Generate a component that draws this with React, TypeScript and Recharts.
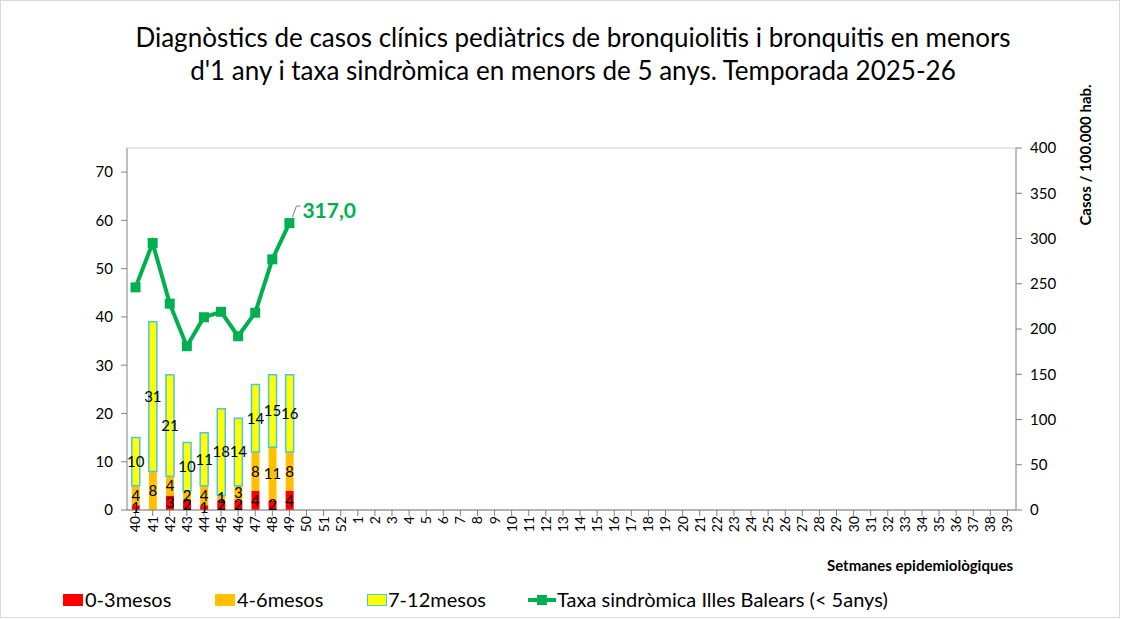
import React from 'react'
import {
  ComposedChart,
  Bar,
  Line,
  XAxis,
  YAxis,
  CartesianGrid,
  LabelList,
} from 'recharts'

// weeks of the 2025-26 season
const weeks = [
  '40', '41', '42', '43', '44', '45', '46', '47', '48', '49', '50', '51', '52',
  '1', '2', '3', '4', '5', '6', '7', '8', '9', '10', '11', '12', '13', '14', '15',
  '16', '17', '18', '19', '20', '21', '22', '23', '24', '25', '26', '27', '28',
  '29', '30', '31', '32', '33', '34', '35', '36', '37', '38', '39',
]

const cases0to3 = [1, 0, 3, 2, 1, 2, 2, 4, 2, 4]
const cases4to6 = [4, 8, 4, 2, 4, 1, 3, 8, 11, 8]
const cases7to12 = [10, 31, 21, 10, 11, 18, 14, 14, 15, 16]
const rateUnder5 = [246, 295, 228, 181, 213, 219, 192, 218, 277, 317]

const leftTicks = [0, 10, 20, 30, 40, 50, 60, 70]
const rightTicks = [0, 50, 100, 150, 200, 250, 300, 350, 400]

const FONT = 'Lato, "Open Sans", sans-serif'

const data = weeks.map((w, i) => ({
  week: w,
  m03: cases0to3[i] ?? null,
  m46: cases4to6[i] ?? null,
  m712: cases7to12[i] ?? null,
  rate: rateUnder5[i] ?? null,
}))

const hideZero = (v: any) => (v ? v : '')

const SquareDot = (props: any) => {
  const { cx, cy, value } = props
  if (value == null || cx == null) return null
  return <rect x={cx - 5} y={cy - 5} width={10} height={10} fill="#00b050" />
}

const LastLabel = (props: any) => {
  const { x, y, index, value } = props
  if (index !== rateUnder5.length - 1) return null
  return (
    <g>
      <polyline
        points={`${x + 3},${y - 6} ${x + 7},${y - 17} ${x + 11},${y - 17}`}
        fill="none"
        stroke="#808080"
        strokeWidth={1}
      />
      <text x={x + 13} y={y - 5} fill="#00b050" fontSize={21} fontWeight="bold" fontFamily={FONT}>
        {value.toFixed(1).replace('.', ',')}
      </text>
    </g>
  )
}

export default function App() {
  return (
    <div style={{ position: 'fixed', left: 0, top: 0, width: 1126, height: 619, background: '#fff', fontFamily: FONT }}>
      <div style={{ position: 'absolute', left: 0, top: 0, width: 1118, height: 616, border: '1px solid #d9d9d9' }} />
      <div
        style={{
          position: 'absolute',
          left: 0,
          top: 21,
          width: 1146,
          textAlign: 'center',
          fontSize: 26,
          lineHeight: '33px',
          color: '#000',
        }}
      >
        Diagnòstics de casos clínics pediàtrics de bronquiolitis i bronquitis en menors
        <br />
        d'1 any i taxa sindròmica en menors de 5 anys. Temporada 2025-26
      </div>
      <ComposedChart
        width={1126}
        height={619}
        data={data}
        margin={{ top: 148, right: 62, left: 77, bottom: 65 }}
        barCategoryGap="28%"
        style={{ position: 'absolute', left: 0, top: 0 }}
      >
        <CartesianGrid vertical={false} stroke="#d0d0d0" />
        <XAxis
          dataKey="week"
          interval={0}
          height={44}
          angle={-90}
          textAnchor="end"
          dx={-5}
          dy={-2}
          tick={{ fontSize: 14, fill: '#000', fontFamily: FONT }}
          stroke="#808080"
          tickLine={{ stroke: '#808080' }}
        />
        <YAxis
          yAxisId="left"
          domain={[0, 75]}
          ticks={leftTicks}
          width={50}
          tick={{ fontSize: 15, fill: '#000', fontFamily: FONT }}
          stroke="#808080"
          tickLine={{ stroke: '#808080' }}
          tickMargin={8}
        />
        <YAxis
          yAxisId="right"
          orientation="right"
          domain={[0, 400]}
          ticks={rightTicks}
          width={48}
          tick={{ fontSize: 15, fill: '#000', fontFamily: FONT, textAnchor: 'start' }}
          stroke="#808080"
          tickLine={{ stroke: '#808080' }}
          tickMargin={8}
        />
        <Bar yAxisId="left" dataKey="m03" stackId="a" fill="#ff0000" isAnimationActive={false}>
          <LabelList dataKey="m03" position="center" formatter={hideZero} fill="#000" fontSize={15} fontFamily={FONT} />
        </Bar>
        <Bar yAxisId="left" dataKey="m46" stackId="a" fill="#ffc000" isAnimationActive={false}>
          <LabelList dataKey="m46" position="center" formatter={hideZero} fill="#000" fontSize={15} fontFamily={FONT} />
        </Bar>
        <Bar yAxisId="left" dataKey="m712" stackId="a" fill="#ffff00" stroke="#4bc6e6" strokeWidth={1.5} isAnimationActive={false}>
          <LabelList dataKey="m712" position="center" formatter={hideZero} fill="#000" fontSize={15} fontFamily={FONT} />
        </Bar>
        <Line
          yAxisId="right"
          dataKey="rate"
          stroke="#00b050"
          strokeWidth={4}
          dot={<SquareDot />}
          activeDot={false}
          connectNulls={false}
          isAnimationActive={false}
        >
          <LabelList dataKey="rate" content={<LastLabel />} />
        </Line>
      </ComposedChart>
      <div
        style={{
          position: 'absolute',
          left: 1085,
          top: 155,
          transform: 'translate(-50%, -50%) rotate(-90deg)',
          fontSize: 15,
          fontWeight: 'bold',
          whiteSpace: 'nowrap',
        }}
      >
        Casos / 100.000 hab.
      </div>
      <div
        style={{
          position: 'absolute',
          right: 1126 - 1013,
          top: 556,
          fontSize: 15,
          fontWeight: 'bold',
          whiteSpace: 'nowrap',
        }}
      >
        Setmanes epidemiològiques
      </div>
      <div style={{ position: 'absolute', top: 587, left: 0, width: 1126, height: 24, fontSize: 20 }}>
        <span style={{ position: 'absolute', left: 63, top: 7, width: 20, height: 12, background: '#ff0000' }} />
        <span style={{ position: 'absolute', left: 85, top: 0 }}>0-3mesos</span>
        <span style={{ position: 'absolute', left: 215, top: 7, width: 20, height: 12, background: '#ffc000' }} />
        <span style={{ position: 'absolute', left: 237, top: 0 }}>4-6mesos</span>
        <span style={{ position: 'absolute', left: 367, top: 7, width: 18, height: 10, background: '#ffff00', border: '1px solid #4bc6e6' }} />
        <span style={{ position: 'absolute', left: 388, top: 0 }}>7-12mesos</span>
        <span style={{ position: 'absolute', left: 528, top: 11, width: 28, height: 4, background: '#00b050' }} />
        <span style={{ position: 'absolute', left: 537, top: 8, width: 10, height: 10, background: '#00b050' }} />
        <span style={{ position: 'absolute', left: 557, top: 0 }}>Taxa sindròmica Illes Balears (&lt; 5anys)</span>
      </div>
    </div>
  )
}
